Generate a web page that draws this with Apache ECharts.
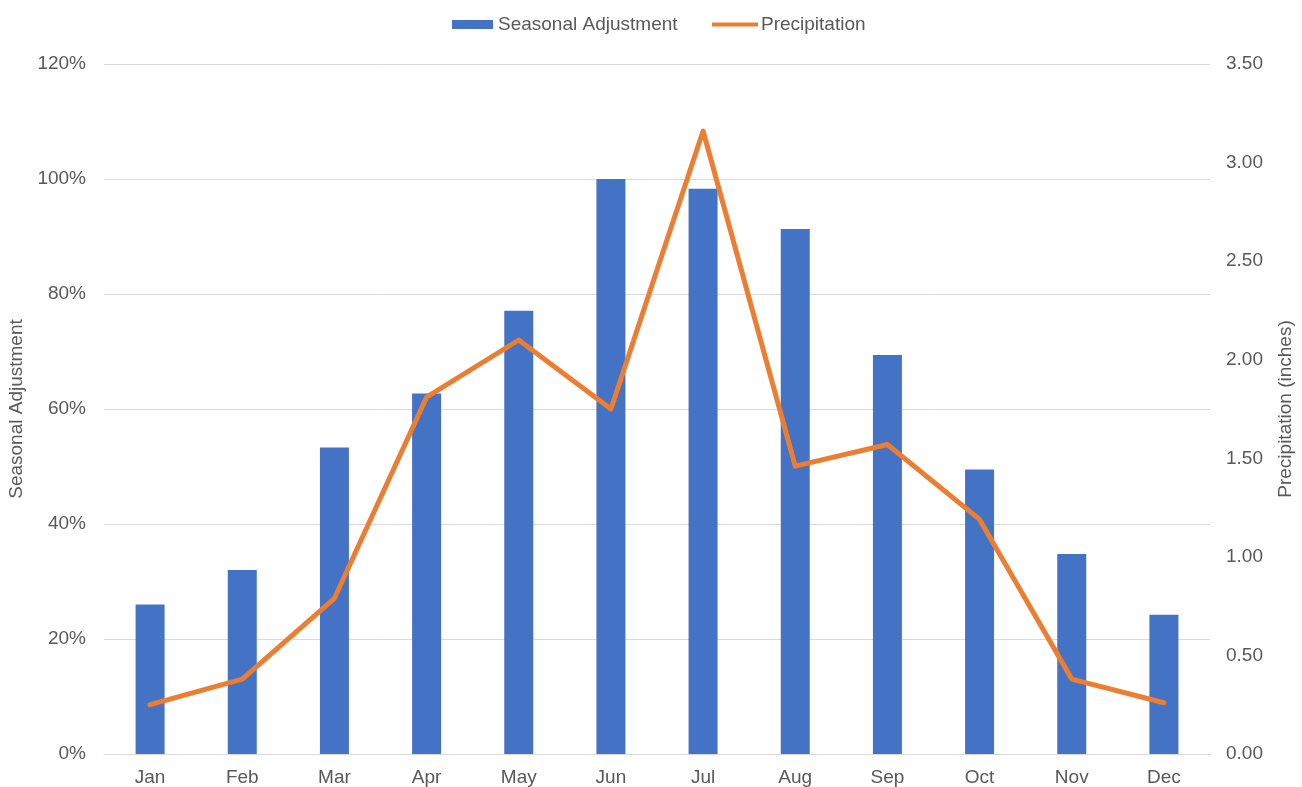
<!DOCTYPE html>
<html>
<head>
<meta charset="utf-8">
<script src="https://cdn.jsdelivr.net/npm/echarts@6/dist/echarts.min.js"></script>
<style>
  html, body { margin: 0; padding: 0; background: #fff; }
  #chart { width: 1302px; height: 787px; }
</style>
</head>
<body>
<div id="chart"></div>
<script>
// Monthly seasonal adjustment (%) and precipitation (inches)
var months = ['Jan', 'Feb', 'Mar', 'Apr', 'May', 'Jun', 'Jul', 'Aug', 'Sep', 'Oct', 'Nov', 'Dec'];
var seasonalAdjustment = [26, 32, 53.3, 62.7, 77.1, 100, 98.3, 91.3, 69.4, 49.5, 34.8, 24.2];
var precipitation = [0.25, 0.38, 0.79, 1.81, 2.10, 1.75, 3.16, 1.46, 1.57, 1.19, 0.38, 0.26];

var textColor = '#595959';
var fontFamily = '"Liberation Sans", Arial, sans-serif';
var fontSize = 19;
var barColor = '#4472C4';
var lineColor = '#ED7D31';

var chart = echarts.init(document.getElementById('chart'));
chart.setOption({
  animation: false,
  textStyle: { fontFamily: fontFamily },
  legend: [
    {
      top: 10,
      left: 447,
      itemWidth: 41,
      itemHeight: 9,
      textStyle: { color: textColor, fontSize: fontSize, fontFamily: fontFamily },
      data: [{ name: 'Seasonal Adjustment', icon: 'rect' }]
    },
    {
      top: 10,
      left: 707,
      itemWidth: 46,
      itemHeight: 4,
      itemGap: 4,
      textStyle: { color: textColor, fontSize: fontSize, fontFamily: fontFamily, padding: [0, 0, 0, -2] },
      data: [{ name: 'Precipitation', icon: 'rect', itemStyle: { color: lineColor } }]
    }
  ],
  grid: { left: 104, right: 92, top: 64, bottom: 33, containLabel: false, outerBoundsMode: 'none' },
  xAxis: {
    type: 'category',
    data: months,
    axisLine: { show: true, lineStyle: { color: '#d9d9d9', width: 1 } },
    axisTick: { show: false },
    axisLabel: { color: textColor, fontSize: fontSize, margin: 14, fontFamily: fontFamily }
  },
  yAxis: [
    {
      type: 'value',
      min: 0,
      max: 120,
      interval: 20,
      name: 'Seasonal Adjustment',
      nameLocation: 'middle',
      nameGap: 75,
      nameTextStyle: { color: textColor, fontSize: fontSize, fontFamily: fontFamily },
      axisLine: { show: false },
      axisTick: { show: false },
      splitLine: { lineStyle: { color: '#d9d9d9', width: 1 } },
      axisLabel: { color: textColor, fontSize: fontSize, margin: 18, fontFamily: fontFamily, formatter: '{value}%' }
    },
    {
      type: 'value',
      min: 0,
      max: 3.5,
      interval: 0.5,
      name: 'Precipitation (inches)',
      nameLocation: 'middle',
      nameGap: 66,
      nameRotate: 90,
      nameTextStyle: { color: textColor, fontSize: fontSize, fontFamily: fontFamily },
      axisLine: { show: false },
      axisTick: { show: false },
      splitLine: { show: false },
      axisLabel: {
        color: textColor, fontSize: fontSize, margin: 16, fontFamily: fontFamily,
        formatter: function (v) { return v.toFixed(2); }
      }
    }
  ],
  series: [
    {
      name: 'Seasonal Adjustment',
      type: 'bar',
      yAxisIndex: 0,
      data: seasonalAdjustment,
      barWidth: 29,
      itemStyle: { color: barColor }
    },
    {
      name: 'Precipitation',
      type: 'line',
      yAxisIndex: 1,
      data: precipitation,
      symbol: 'none',
      lineStyle: { color: lineColor, width: 5, join: 'round', cap: 'round' },
      itemStyle: { color: lineColor }
    }
  ]
});
</script>
</body>
</html>
